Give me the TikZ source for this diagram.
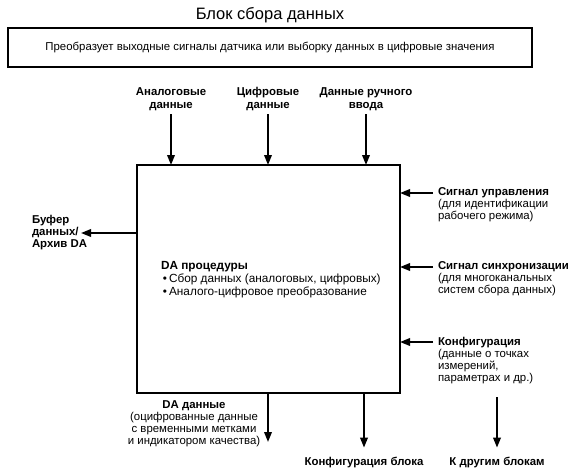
\documentclass[tikz,border=0pt]{standalone}
\usepackage{fontspec}
\setmainfont{Liberation Sans}
\usetikzlibrary{arrows.meta}
\begin{document}
\begin{tikzpicture}[x=1pt,y=-1pt,
  box/.style={draw,line width=1.9pt,inner sep=0pt,outer sep=0pt},
  arr/.style={line width=1.9pt,-{Triangle[length=10pt,width=7.5pt]}},
  lbl/.style={font=\fontsize{11.4}{12}\selectfont,align=left,inner sep=0pt,outer sep=0pt},
  blbl/.style={lbl,font=\fontsize{11.4}{12}\selectfont\bfseries},
  clbl/.style={lbl,font=\fontsize{11.4}{13.5}\selectfont\bfseries,align=center}]
\useasboundingbox (0,0) rectangle (573,472);
% title and description
\node[font=\fontsize{16.5}{18}\selectfont,anchor=base,inner sep=0pt] (title) at (270,19) {Блок сбора данных};
\node[box,minimum width=524pt,minimum height=39pt,anchor=north west,
  font=\fontsize{11.4}{12}\selectfont] (desc) at (8,28)
  {Преобразует выходные сигналы датчика или выборку данных в цифровые значения};
% main block
\node[box,minimum width=263pt,minimum height=228pt,anchor=north west] (main) at (137,165) {};
\node[lbl,font=\fontsize{11.8}{13}\selectfont,anchor=north west] (proc) at (161,261)
  {\textbf{DA процедуры}\\{}\,•\,Сбор данных (аналоговых, цифровых)\\{}\,•\,Аналого-цифровое преобразование};
% top inputs
\node[clbl,anchor=south] (ana) at (171,111) {Аналоговые\\данные};
\node[clbl,anchor=south] (dig) at (268,111) {Цифровые\\данные};
\node[clbl,anchor=south] (man) at (366,111) {Данные ручного\\ввода};
\draw[arr] ([yshift=-3pt]ana.south) -- (ana.south |- main.north);
\draw[arr] ([yshift=-3pt]dig.south) -- (dig.south |- main.north);
\draw[arr] ([yshift=-3pt]man.south) -- (man.south |- main.north);
% left output
\coordinate (bufend) at (81,233);
\draw[arr] (bufend -| main.west) -- (bufend);
\node[blbl,anchor=north west] (buf) at (32,215) {Буфер\\данных/\\Архив DA};
% right inputs
\coordinate (s1) at (433,193);
\coordinate (s2) at (433,267);
\coordinate (s3) at (433,342);
\draw[arr] (s1) -- (s1 -| main.east);
\draw[arr] (s2) -- (s2 -| main.east);
\draw[arr] (s3) -- (s3 -| main.east);
\node[lbl,anchor=north west] (ctl) at (438,188) {\textbf{Сигнал управления}\\(для идентификации\\рабочего режима)};
\node[lbl,anchor=north west] (sync) at (438,262) {\textbf{Сигнал синхронизации}\\(для многоканальных\\систем сбора данных)};
\node[lbl,anchor=north west] (conf) at (438,337) {\textbf{Конфигурация}\\(данные о точках\\измерений,\\параметрах и др.)};
% bottom outputs
\coordinate (daend) at (268,442);
\draw[arr] (daend |- main.south) -- (daend);
\node[lbl,align=center,anchor=north] (dadata) at (194,401) {\textbf{DA данные}\\(оцифрованные данные\\с временными метками\\и индикатором качества)};
\node[blbl,anchor=base] (cfgblk) at (364,465) {Конфигурация блока};
\node[blbl,anchor=base] (other) at (497,465) {К другим блокам};
\draw[arr] (cfgblk.north |- main.south) -- ([yshift=9pt]cfgblk.north);
\coordinate (otherstart) at (497,397);
\draw[arr] (otherstart) -- ([yshift=9pt]other.north);
\end{tikzpicture}
\end{document}
